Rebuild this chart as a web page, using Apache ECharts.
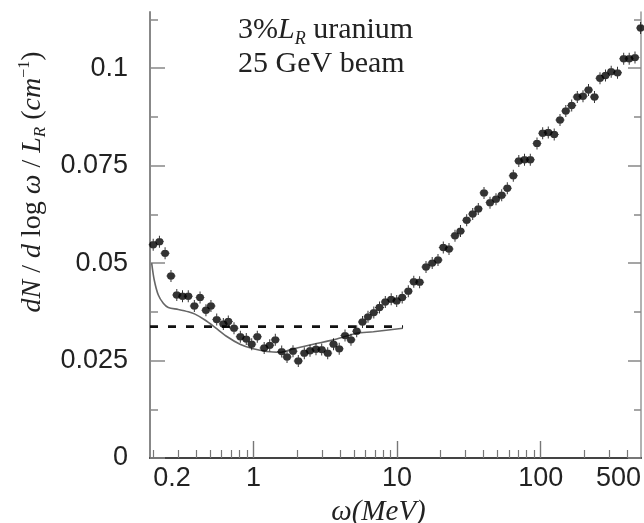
<!DOCTYPE html>
<html>
<head>
<meta charset="utf-8">
<script src="https://cdn.jsdelivr.net/npm/echarts@6/dist/echarts.min.js"></script>
<style>html,body{margin:0;padding:0;background:#fff}#c{width:644px;height:523px}</style>
</head>
<body>
<div id="c"></div>
<script>
// measured points (omega in MeV, dN/dlog(omega)/L_R in 1/cm)
const pointX = [0.200,0.221,0.242,0.266,0.292,0.320,0.351,0.387,0.424,0.466,0.505,0.554,0.616,0.667,0.731,0.809,0.890,0.971,
  1.062,1.186,1.296,1.418,1.571,1.711,1.883,2.050,2.257,2.474,2.723,2.984,3.286,3.606,3.952,4.337,4.773,5.231,5.741,6.270,6.882,7.541,8.276,9.097,9.936,
  10.85,11.97,13.07,14.35,15.90,17.56,19.27,20.98,22.99,25.31,27.64,30.53,33.62,36.78,40.31,44.38,48.86,53.54,58.57,64.48,70.43,77.18,84.69,94.30,
  103.3,113.0,124.3,136.4,149.7,164.5,180.0,197.2,215.4,237.1,259.0,282.9,310.0,343.0,378.8,413.8,454.1,497];
const pointY = [0.0547,0.0555,0.0525,0.0467,0.0418,0.0415,0.0415,0.0390,0.0412,0.0379,0.0390,0.0355,0.0344,0.0350,0.0333,0.0311,0.0305,0.0292,
  0.0311,0.0282,0.0289,0.0303,0.0273,0.0259,0.0274,0.0249,0.0269,0.0275,0.0279,0.0278,0.0269,0.0292,0.0280,0.0314,0.0303,0.0325,0.0349,0.0362,0.0373,0.0386,0.0400,0.0407,0.0403,
  0.0412,0.0428,0.0452,0.0451,0.0490,0.0500,0.0508,0.0540,0.0536,0.0570,0.0582,0.0610,0.0626,0.0639,0.0680,0.0655,0.0664,0.0674,0.0692,0.0724,0.0762,0.0765,0.0765,0.0807,
  0.0833,0.0835,0.0830,0.0867,0.0890,0.0904,0.0926,0.0928,0.0944,0.0926,0.0974,0.0981,0.0991,0.0988,0.1024,0.1024,0.1027,0.1103];
// theory curve (solid)
const curveX = [0.1952,0.2035,0.2171,0.2351,0.2548,0.2991,0.3511,0.3910,0.4589,0.5390,0.6431,0.8048,0.996,1.235,1.529,1.844,2.608,3.594,4.457,5.231,6.828,10.99];
const curveY = [0.0500,0.0456,0.0418,0.0397,0.0386,0.0381,0.0375,0.0369,0.0354,0.0335,0.0313,0.0292,0.0280,0.0273,0.0271,0.0279,0.0292,0.0303,0.0313,0.0320,0.0324,0.0333];
// dashed reference level
const dashX = [0.19, 11];
const dashY = [0.0337, 0.0337];
// axis ticks / labels
const xLabelValues = [0.2, 1, 10, 100, 500];
const xMinorTicks = [0.2,0.3,0.4,0.5,0.6,0.7,0.8,0.9,2,3,4,5,6,7,8,9,20,30,40,50,60,70,80,90,200,300,400];
const xMajorTicks = [1, 10, 100];
const yLabelValues = [0, 0.025, 0.05, 0.075, 0.1];
const yMinorTicks = [0.0125, 0.0375, 0.0625, 0.0875, 0.1125];

const XMIN = 0.19, XMAX = 500, YMIN = 0, YMAX = 0.1144;
const serif = "'Liberation Serif','Times New Roman',serif";
const sans = "'Liberation Sans',Arial,sans-serif";
const zip = (a, b) => a.map((v, i) => [v, b[i]]);

const symbolPath = 'path://M4.5,0 H5.5 V13 H4.5 Z M0.5,6 H9.5 V7 H0.5 Z M1.0,6.5 A4,4 0 1 1 9.0,6.5 A4,4 0 1 1 1.0,6.5 Z';

const chart = echarts.init(document.getElementById('c'), null, {renderer: 'canvas'});
const baseX = {type: 'log', logBase: 10, min: XMIN, max: XMAX, splitLine: {show: false}, minorTick: {show: false}};
const baseY = {type: 'value', min: YMIN, max: YMAX, splitLine: {show: false}};

chart.setOption({
  animation: false,
  backgroundColor: '#fff',
  grid: {left: 150, right: 3, top: 12, bottom: 65, containLabel: false, outerBoundsMode: 'none'},
  title: [
    {text: '3%{i|L}{sub|R} uranium', left: 233, top: 7,
     textStyle: {fontFamily: serif, fontSize: 30, fontWeight: 'normal', color: '#222', lineHeight: 36,
       rich: {i: {fontFamily: serif, fontStyle: 'italic', fontSize: 30, color: '#222', lineHeight: 36},
              sub: {fontFamily: serif, fontStyle: 'italic', fontSize: 18, color: '#222', verticalAlign: 'bottom', lineHeight: 18}}}},
    {text: '25 GeV beam', left: 233, top: 44,
     textStyle: {fontFamily: serif, fontSize: 30, fontWeight: 'normal', color: '#222'}}
  ],
  xAxis: [
    Object.assign({}, baseX, {
      position: 'bottom',
      axisLine: {show: true, lineStyle: {color: '#666', width: 1.5}},
      axisTick: {show: true, inside: true, length: 8, customValues: xMinorTicks, lineStyle: {color: '#777', width: 1.2}},
      axisLabel: {show: true, customValues: xLabelValues, fontFamily: sans, fontSize: 27, color: '#222', margin: 7,
                  alignMinLabel: 'left', alignMaxLabel: 'right',
                  formatter: v => String(+(+v).toPrecision(3))},
      name: 'ω(MeV)', nameLocation: 'middle', nameGap: 40,
      nameTextStyle: {fontFamily: serif, fontStyle: 'italic', fontSize: 29, color: '#222', padding: [0, 34, 0, 0]}
    }),
    Object.assign({}, baseX, {
      position: 'bottom',
      axisLine: {show: false},
      axisTick: {show: true, inside: true, length: 17, customValues: xMajorTicks, lineStyle: {color: '#777', width: 1.4}},
      axisLabel: {show: false}
    }),
    Object.assign({}, baseX, {
      position: 'top',
      axisLine: {show: true, lineStyle: {color: '#444', width: 2}},
      axisTick: {show: false},
      axisLabel: {show: false}
    })
  ],
  yAxis: [
    Object.assign({}, baseY, {
      position: 'left',
      axisLine: {show: true, lineStyle: {color: '#888', width: 2}},
      axisTick: {show: true, inside: true, length: 15, customValues: yLabelValues, lineStyle: {color: '#888', width: 1.5}},
      axisLabel: {show: true, customValues: yLabelValues, fontFamily: sans, fontSize: 27, color: '#222', margin: 22,
                  formatter: v => String(+(+v).toPrecision(3))},
      name: '{i|dN} / {i|d} log {i|ω} / {i|L}{sub|R} ({i|cm}{sup|−1})',
      nameLocation: 'middle', nameGap: 101, nameRotate: 90,
      nameTextStyle: {fontFamily: serif, fontSize: 28, color: '#222', lineHeight: 32, padding: [0, 0, 0, 106],
        rich: {i: {fontFamily: serif, fontStyle: 'italic', fontSize: 28, color: '#222', lineHeight: 32},
               sub: {fontFamily: serif, fontStyle: 'italic', fontSize: 17, color: '#222', verticalAlign: 'bottom', lineHeight: 17},
               sup: {fontFamily: serif, fontSize: 16, color: '#222', verticalAlign: 'top', lineHeight: 16}}}
    }),
    Object.assign({}, baseY, {
      position: 'left',
      axisLine: {show: false},
      axisTick: {show: true, inside: true, length: 8, customValues: yMinorTicks, lineStyle: {color: '#888', width: 1.5}},
      axisLabel: {show: false}
    }),
    Object.assign({}, baseY, {
      position: 'right',
      axisLine: {show: true, lineStyle: {color: '#999', width: 1.5}},
      axisTick: {show: true, inside: true, length: 13, customValues: yLabelValues, lineStyle: {color: '#888', width: 1.5}},
      axisLabel: {show: false}
    }),
    Object.assign({}, baseY, {
      position: 'right',
      axisLine: {show: false},
      axisTick: {show: true, inside: true, length: 7, customValues: yMinorTicks, lineStyle: {color: '#888', width: 1.5}},
      axisLabel: {show: false}
    })
  ],
  series: [
    {type: 'line', name: 'level', data: zip(dashX, dashY), showSymbol: false, symbol: 'none',
     lineStyle: {color: '#111', width: 2.8, type: [8, 10]}, z: 2},
    {type: 'line', name: 'theory', data: zip(curveX, curveY), showSymbol: false, symbol: 'none', smooth: 0.3,
     lineStyle: {color: '#666', width: 1.6}, z: 3},
    {type: 'scatter', name: 'data', data: zip(pointX, pointY), symbol: symbolPath, symbolSize: [9, 12],
     itemStyle: {color: '#000'}, clip: false, z: 4}
  ]
});
</script>
</body>
</html>
